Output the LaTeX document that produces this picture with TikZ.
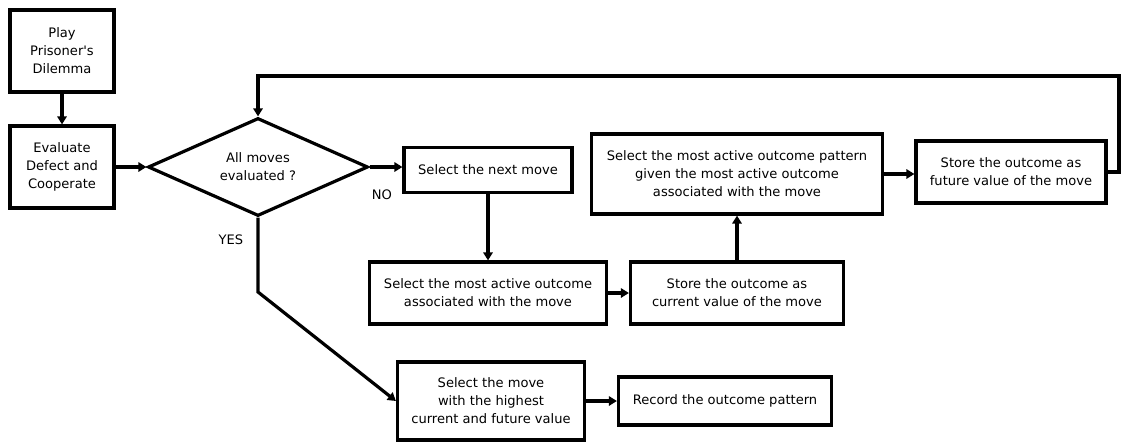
\documentclass[tikz,border=0pt]{standalone}
\usepackage{fontspec}
\setmainfont{DejaVu Sans}
\usetikzlibrary{arrows.meta, shapes.geometric}

\begin{document}
\begin{tikzpicture}[
    x=0.75pt, y=-0.75pt,
    ->,
    >={Triangle[length=6pt, width=7pt]},
    line width=2.4pt,
    every node/.style={font=\fontsize{9.8pt}{13.5pt}\selectfont, align=center},
    box/.style={rectangle, draw, inner sep=2pt},
    decision/.style={diamond, draw, inner sep=0pt, aspect=2.2,
      minimum width=165pt, minimum height=73.5pt}
  ]
  \useasboundingbox (0,0) rectangle (1121,443);

  % nodes
  \node[box, minimum width=78pt, minimum height=61.5pt] (play) at (62,51) {Play\\Prisoner\textquotesingle s\\Dilemma};
  \node[box, minimum width=78pt, minimum height=61.5pt] (eval) at (62,167) {Evaluate\\Defect and\\Cooperate};
  \node[decision] (dec) at (258,167) {All moves\\evaluated ?};
  \node[box, minimum width=126pt, minimum height=33.75pt] (next) at (488,170) {Select the next move};
  \node[box, minimum width=177.75pt, minimum height=46.5pt] (active) at (488,293) {Select the most active outcome\\associated with the move};
  \node[box, minimum width=159.75pt, minimum height=46.5pt] (current) at (737,293) {Store the outcome as\\current value of the move};
  \node[box, minimum width=218.25pt, minimum height=60pt] (pattern) at (737,174) {Select the most active outcome pattern\\given the most active outcome\\associated with the move};
  \node[box, minimum width=142.5pt, minimum height=46.5pt] (future) at (1011,172) {Store the outcome as\\future value of the move};
  \node[box, minimum width=140.25pt, minimum height=58.5pt] (best) at (491,401) {Select the move\\with the highest\\current and future value};
  \node[box, minimum width=159.75pt, minimum height=36pt] (record) at (725,401) {Record the outcome pattern};

  % labels
  \node (no) at (382,195) {NO};
  \node (yes) at (231,240) {YES};

  \coordinate (loop) at (1119,76);
  \coordinate (bend) at (258,292);

  % connectors
  \draw (play) -- (eval);
  \draw (eval) -- (dec);
  \draw (dec.east) -- (dec.east -| next.west);
  \draw (next) -- (active);
  \draw (active) -- (current);
  \draw (current) -- (pattern);
  \draw (pattern.east) -- (pattern.east -| future.west);
  \draw (future.east) -| (loop) -| (dec.north);
  \draw (dec.south) -- (bend) -- (best.west);
  \draw (best) -- (record);

\end{tikzpicture}
\end{document}
